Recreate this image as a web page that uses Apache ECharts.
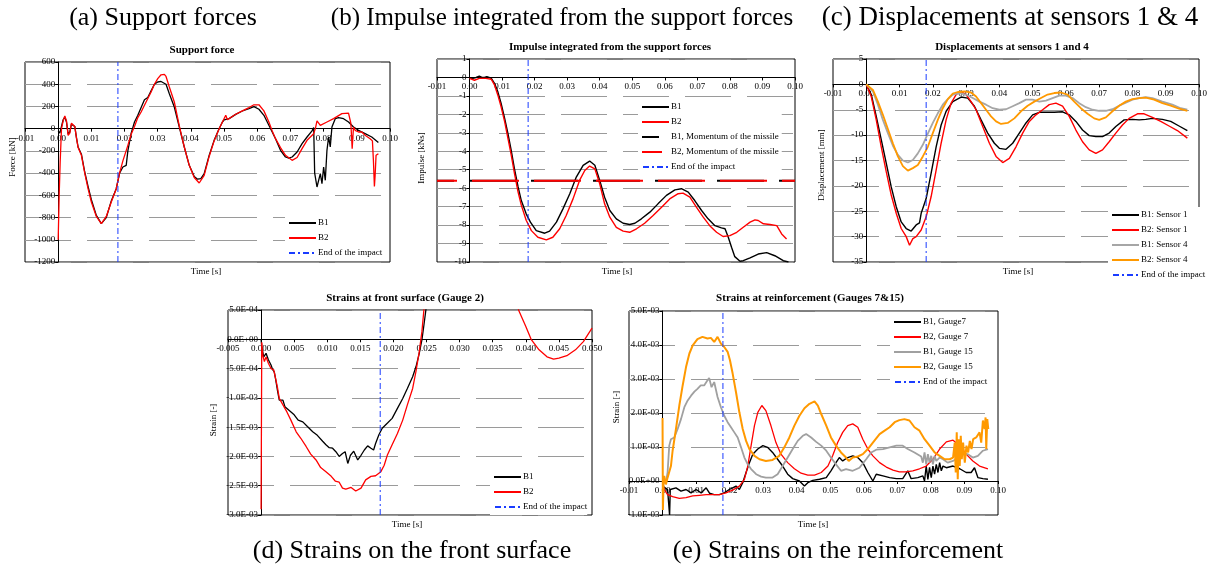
<!DOCTYPE html>
<html><head><meta charset="utf-8">
<script src="https://cdn.jsdelivr.net/npm/echarts@6.0.0/dist/echarts.min.js"></script>
<style>html,body{margin:0;padding:0;background:#fff}#c{width:1210px;height:567px}</style>
</head><body><div id="c"></div>
<script>
// ---------- DATA (time [s], value) ----------
const END_OF_IMPACT = 0.018;

// (a) Support force [kN]
const a_B1 = [[0,-20],[0.0005,-40],[0.001,20],[0.0015,80],[0.002,105],[0.0025,60],[0.003,-50],[0.0035,-30],[0.004,40],[0.0044,55],[0.005,20],[0.0055,-80],[0.006,-165],[0.007,-230],[0.008,-390],[0.009,-520],[0.010,-640],[0.0115,-780],[0.013,-855],[0.0135,-860],[0.0145,-800],[0.016,-650],[0.0175,-540],[0.0185,-400],[0.0195,-345],[0.0205,-330],[0.021,-200],[0.022,-40],[0.023,60],[0.024,120],[0.025,190],[0.026,260],[0.027,280],[0.028,340],[0.029,400],[0.030,420],[0.031,425],[0.0315,435],[0.0325,400],[0.0335,315],[0.035,195],[0.0365,15],[0.038,-165],[0.0395,-330],[0.041,-430],[0.042,-455],[0.043,-450],[0.044,-405],[0.0455,-240],[0.047,-105],[0.0485,0],[0.0495,60],[0.050,80],[0.0515,90],[0.0535,129],[0.0555,159],[0.0575,180],[0.059,198],[0.0605,175],[0.062,120],[0.0635,30],[0.0645,-30],[0.0655,-90],[0.067,-195],[0.0685,-255],[0.0695,-265],[0.0705,-255],[0.072,-210],[0.0735,-135],[0.075,-75],[0.0765,-20],[0.077,10],[0.0773,-400],[0.078,-525],[0.0785,-540],[0.079,-405],[0.0795,-495],[0.080,-345],[0.0805,-465],[0.081,-195],[0.0815,-75],[0.082,-165],[0.0825,15],[0.0835,90],[0.0845,100],[0.086,90],[0.0875,60],[0.089,15],[0.0905,-15],[0.0925,-45],[0.0945,-75],[0.0965,-125]];
const a_B2 = [[0,-1000],[0.0003,-600],[0.0006,-300],[0.001,0],[0.0015,70],[0.002,115],[0.0025,70],[0.003,-60],[0.0035,-40],[0.004,50],[0.0044,60],[0.005,20],[0.0055,-80],[0.006,-170],[0.007,-240],[0.008,-400],[0.009,-540],[0.010,-660],[0.0115,-790],[0.013,-855],[0.0135,-860],[0.0145,-790],[0.016,-660],[0.0175,-540],[0.0185,-400],[0.0195,-290],[0.021,-150],[0.022,-50],[0.023,20],[0.024,100],[0.025,150],[0.026,210],[0.028,330],[0.029,400],[0.030,450],[0.031,485],[0.032,489],[0.0325,470],[0.0335,375],[0.035,240],[0.0365,25],[0.038,-165],[0.0395,-330],[0.041,-440],[0.0425,-489],[0.044,-420],[0.0455,-250],[0.047,-110],[0.0485,0],[0.0495,60],[0.0505,120],[0.051,80],[0.0515,85],[0.0535,130],[0.0555,160],[0.0575,190],[0.059,215],[0.0605,215],[0.062,160],[0.0635,60],[0.0645,-20],[0.0655,-90],[0.067,-170],[0.0685,-240],[0.0705,-285],[0.072,-260],[0.0735,-180],[0.075,-105],[0.077,-45],[0.0775,0],[0.078,70],[0.0785,50],[0.079,30],[0.081,60],[0.083,90],[0.0855,135],[0.0875,140],[0.0882,50],[0.0886,-180],[0.089,15],[0.0895,-15],[0.0905,-30],[0.0915,-30],[0.0925,-60],[0.094,-90],[0.0947,-110],[0.095,-285],[0.0953,-520],[0.0955,-430],[0.0958,-240],[0.0965,-225]];

// (b) Impulse [kNs]
const b_B1 = [[0,-0.05],[0.001,-0.05],[0.002,0.0],[0.003,0.07],[0.0038,0.0],[0.0046,0.0],[0.0053,0.05],[0.006,0.0],[0.0067,-0.05],[0.0077,-0.33],[0.0087,-0.78],[0.0097,-1.41],[0.0108,-2.23],[0.0118,-3.04],[0.0128,-3.95],[0.0138,-4.95],[0.0149,-5.92],[0.0159,-6.67],[0.0174,-7.39],[0.0187,-7.84],[0.0205,-8.3],[0.0231,-8.44],[0.0246,-8.33],[0.0267,-7.84],[0.0287,-7.12],[0.0308,-6.3],[0.0328,-5.4],[0.0349,-4.76],[0.0369,-4.53],[0.0385,-4.76],[0.04,-5.58],[0.0415,-6.49],[0.0431,-7.21],[0.0451,-7.66],[0.0472,-7.9],[0.0492,-7.97],[0.0508,-7.9],[0.0528,-7.66],[0.0554,-7.3],[0.0579,-6.85],[0.0605,-6.39],[0.0631,-6.09],[0.0651,-6.03],[0.0672,-6.21],[0.0692,-6.67],[0.0713,-7.21],[0.0733,-7.66],[0.0754,-8.03],[0.0774,-8.15],[0.0785,-8.2],[0.0795,-8.66],[0.0805,-9.2],[0.0815,-9.71],[0.0831,-9.96],[0.0841,-9.93],[0.0862,-9.78],[0.0887,-9.57],[0.0913,-9.49],[0.0938,-9.66],[0.0964,-9.93],[0.098,-10]];
const b_B2 = [[0,-0.05],[0.0005,-0.1],[0.0015,-0.15],[0.003,-0.05],[0.005,-0.05],[0.0067,-0.1],[0.0077,-0.42],[0.0087,-0.96],[0.0097,-1.59],[0.0108,-2.41],[0.0118,-3.3],[0.0128,-4.2],[0.0138,-5.2],[0.0149,-6.2],[0.0159,-6.92],[0.0174,-7.74],[0.019,-8.3],[0.021,-8.66],[0.0236,-8.8],[0.0256,-8.66],[0.0277,-8.2],[0.0297,-7.48],[0.0318,-6.58],[0.0338,-5.58],[0.0354,-5.04],[0.0369,-4.8],[0.0385,-4.95],[0.04,-5.76],[0.0415,-6.85],[0.0431,-7.57],[0.0451,-8.12],[0.0472,-8.33],[0.0492,-8.39],[0.0513,-8.2],[0.0538,-7.9],[0.0564,-7.48],[0.059,-7.03],[0.0615,-6.58],[0.0641,-6.3],[0.0656,-6.27],[0.0677,-6.49],[0.0697,-7.03],[0.0718,-7.57],[0.0738,-8.03],[0.0759,-8.39],[0.0779,-8.62],[0.08,-8.57],[0.0821,-8.39],[0.0841,-8.12],[0.0862,-7.84],[0.0877,-7.72],[0.0887,-7.75],[0.0903,-7.93],[0.0923,-7.97],[0.0944,-8.03],[0.0959,-8.48],[0.0974,-8.75]];
const b_B1_momentum = -5.6;
const b_B2_momentum = -5.6;

// (c) Displacement [mm]
const c_B1S1 = [[0,0],[0.0015,-2.0],[0.003,-6.3],[0.0045,-10.9],[0.006,-15.5],[0.0075,-20.2],[0.009,-24.1],[0.0105,-27.1],[0.012,-28.4],[0.0135,-28.9],[0.015,-27.7],[0.016,-27.3],[0.0165,-25.4],[0.018,-22.5],[0.0195,-17.5],[0.021,-12.3],[0.0225,-8.0],[0.024,-5.3],[0.026,-3.4],[0.0285,-2.5],[0.0305,-2.7],[0.0325,-4.3],[0.0345,-7.0],[0.0365,-9.6],[0.0385,-11.6],[0.04,-12.6],[0.042,-12.8],[0.044,-11.6],[0.046,-9.6],[0.048,-7.6],[0.05,-6.0],[0.052,-5.5],[0.054,-5.5],[0.0565,-5.5],[0.059,-5.4],[0.061,-6.0],[0.063,-7.3],[0.065,-9.0],[0.067,-10.1],[0.069,-10.3],[0.071,-10.3],[0.073,-9.6],[0.075,-8.3],[0.0775,-7.0],[0.08,-6.9],[0.082,-7.0],[0.084,-6.9],[0.086,-6.7],[0.089,-6.9],[0.0915,-7.3],[0.094,-8.2],[0.0965,-9.1]];
const c_B2S1 = [[0,0],[0.0015,-2.4],[0.003,-7.0],[0.0045,-12.3],[0.006,-17.2],[0.0075,-21.8],[0.009,-25.4],[0.0105,-28.4],[0.012,-30.0],[0.013,-31.7],[0.014,-30.4],[0.015,-30.0],[0.0165,-28.7],[0.018,-26.1],[0.0195,-22.1],[0.021,-16.9],[0.0225,-11.6],[0.024,-7.0],[0.0255,-3.7],[0.027,-2.0],[0.0285,-1.4],[0.03,-2.0],[0.0315,-3.4],[0.033,-5.0],[0.035,-8.3],[0.037,-11.6],[0.039,-14.2],[0.041,-15.4],[0.043,-14.6],[0.045,-12.3],[0.047,-9.6],[0.049,-7.3],[0.051,-6.0],[0.053,-5.0],[0.055,-4.0],[0.057,-3.7],[0.059,-4.3],[0.061,-6.3],[0.063,-9.0],[0.065,-11.3],[0.067,-12.9],[0.069,-13.6],[0.071,-12.9],[0.073,-11.3],[0.075,-9.6],[0.077,-8.0],[0.079,-6.7],[0.0815,-5.8],[0.0835,-5.8],[0.086,-6.5],[0.0885,-7.3],[0.091,-8.2],[0.0935,-9.1],[0.0965,-10.6]];
const c_B1S4 = [[0,0],[0.002,-1.4],[0.0035,-4.0],[0.005,-7.0],[0.0065,-9.6],[0.008,-12.1],[0.0095,-13.9],[0.011,-15.0],[0.0125,-15.4],[0.014,-14.9],[0.0155,-13.6],[0.017,-11.9],[0.0185,-9.7],[0.02,-7.6],[0.0215,-5.7],[0.023,-4.0],[0.0245,-2.9],[0.026,-2.0],[0.028,-1.7],[0.03,-2.0],[0.032,-2.7],[0.034,-3.4],[0.036,-4.0],[0.038,-4.7],[0.04,-5.0],[0.042,-4.9],[0.044,-4.3],[0.046,-3.7],[0.048,-3.0],[0.05,-3.0],[0.052,-3.4],[0.054,-3.2],[0.056,-2.7],[0.058,-2.2],[0.06,-2.2],[0.062,-2.7],[0.064,-3.7],[0.066,-4.5],[0.068,-5.0],[0.07,-5.2],[0.072,-5.2],[0.074,-4.9],[0.076,-4.2],[0.078,-3.6],[0.08,-3.0],[0.082,-2.7],[0.084,-2.5],[0.086,-2.7],[0.089,-3.4],[0.092,-4.0],[0.0945,-4.7],[0.0965,-5.0]];
const c_B2S4 = [[0,0],[0.002,-1.1],[0.0035,-3.4],[0.005,-6.0],[0.0065,-8.8],[0.008,-11.6],[0.0095,-14.2],[0.011,-16.1],[0.0125,-17.0],[0.014,-16.5],[0.0155,-15.9],[0.017,-14.2],[0.0185,-12.3],[0.02,-9.6],[0.0215,-7.0],[0.023,-4.7],[0.0245,-2.9],[0.026,-1.8],[0.0275,-1.5],[0.0295,-1.4],[0.0315,-1.6],[0.033,-2.4],[0.0345,-3.7],[0.036,-5.0],[0.0375,-6.3],[0.039,-7.3],[0.0405,-7.8],[0.0425,-7.6],[0.0445,-6.7],[0.0465,-5.3],[0.0485,-4.2],[0.0505,-3.4],[0.0525,-2.7],[0.0545,-2.0],[0.0565,-1.7],[0.0585,-1.6],[0.0605,-2.0],[0.0625,-3.4],[0.0645,-4.7],[0.0665,-5.8],[0.0685,-6.7],[0.07,-7.0],[0.072,-6.5],[0.074,-5.3],[0.076,-4.2],[0.078,-3.4],[0.08,-2.9],[0.082,-2.7],[0.084,-2.6],[0.0865,-3.0],[0.089,-3.7],[0.0915,-4.2],[0.094,-4.8],[0.0965,-5.2]];

// (d) Strain at front surface, in units of 1E-03
const d_B1 = [[0,0],[0.0001,-0.13],[0.0004,-0.3],[0.00075,-0.24],[0.0011,-0.35],[0.0015,-0.44],[0.00175,-0.52],[0.002,-0.56],[0.00225,-0.72],[0.0025,-0.89],[0.00275,-1.04],[0.003,-1.01],[0.0033,-1.04],[0.0036,-1.15],[0.0043,-1.22],[0.005,-1.29],[0.0056,-1.38],[0.0063,-1.41],[0.007,-1.49],[0.0078,-1.58],[0.0085,-1.64],[0.0093,-1.74],[0.0098,-1.8],[0.0103,-1.85],[0.0108,-1.86],[0.0113,-1.92],[0.0118,-2.0],[0.0123,-1.95],[0.0127,-1.92],[0.0131,-2.12],[0.0135,-1.98],[0.014,-1.91],[0.0146,-2.06],[0.0151,-1.98],[0.0156,-1.89],[0.0161,-1.82],[0.0166,-1.86],[0.017,-1.89],[0.0173,-1.78],[0.0178,-1.63],[0.0183,-1.52],[0.0191,-1.43],[0.0198,-1.35],[0.0206,-1.18],[0.0214,-1.01],[0.0221,-0.84],[0.0229,-0.64],[0.0234,-0.47],[0.0239,-0.24],[0.0243,-0.01],[0.0246,0.24],[0.0249,0.5],[0.0255,1.0]];
const d_B2 = [[0,-2.9],[0.00005,-1.5],[0.0001,-0.05],[0.00025,-0.27],[0.0005,-0.38],[0.00075,-0.3],[0.0011,-0.41],[0.0015,-0.5],[0.0019,-0.52],[0.0022,-0.67],[0.0025,-0.84],[0.00275,-1.01],[0.0033,-1.12],[0.0039,-1.24],[0.0045,-1.38],[0.0053,-1.58],[0.006,-1.69],[0.0068,-1.83],[0.0075,-1.96],[0.0083,-2.06],[0.009,-2.19],[0.0098,-2.26],[0.0106,-2.34],[0.0112,-2.42],[0.0118,-2.44],[0.0123,-2.54],[0.0128,-2.56],[0.0136,-2.53],[0.0143,-2.59],[0.0151,-2.54],[0.0158,-2.4],[0.0166,-2.34],[0.0173,-2.33],[0.0181,-2.26],[0.0186,-2.15],[0.0191,-1.97],[0.0198,-1.8],[0.0206,-1.61],[0.0214,-1.38],[0.0221,-1.12],[0.0229,-0.84],[0.0234,-0.55],[0.0239,-0.21],[0.0243,0.13],[0.0246,0.5],[0.0252,1.0],[0.0385,1.0],[0.0389,0.5],[0.04,0.22],[0.0408,0],[0.042,-0.18],[0.0432,-0.3],[0.0442,-0.34],[0.045,-0.32],[0.0462,-0.28],[0.0475,-0.18],[0.0487,-0.04],[0.05,0.19]];

// (e) Strain at reinforcement, in units of 1E-03
const e_B1G7 = [[0,-0.15],[0.0005,-0.2],[0.0015,-0.25],[0.0021,-1.0],[0.0023,-0.25],[0.0025,-0.2],[0.004,-0.2],[0.0055,-0.3],[0.007,-0.25],[0.0085,-0.35],[0.01,-0.25],[0.0115,-0.35],[0.013,-0.2],[0.014,-0.36],[0.0154,-0.4],[0.0169,-0.4],[0.0184,-0.35],[0.0199,-0.25],[0.0209,-0.2],[0.0219,-0.15],[0.0229,-0.25],[0.0239,-0.05],[0.0249,0.25],[0.0259,0.54],[0.0269,0.79],[0.0284,0.94],[0.0299,1.04],[0.0313,0.99],[0.0328,0.84],[0.0343,0.64],[0.0358,0.44],[0.0373,0.2],[0.0388,0.07],[0.0408,0],[0.0423,-0.15],[0.0433,-0.05],[0.0448,0.02],[0.0468,0.05],[0.0488,0.1],[0.0502,0.3],[0.0517,0.54],[0.0527,0.69],[0.0537,0.59],[0.0552,0.69],[0.0567,0.74],[0.0582,0.69],[0.0597,0.54],[0.0612,0.25],[0.0627,0],[0.0637,0.2],[0.0657,0.15],[0.0677,0.1],[0.0697,0.07],[0.0716,0.07],[0.0731,0.3],[0.0741,0.07],[0.0761,0.1],[0.0776,0.15],[0.0781,0],[0.0786,0.44],[0.0791,0.05],[0.0796,0.4],[0.0801,0.1],[0.0806,0.44],[0.0811,0.2],[0.0816,0.49],[0.0821,0.25],[0.0826,0.54],[0.0831,0.3],[0.0836,0.44],[0.0846,0.39],[0.0866,0.44],[0.0886,0.36],[0.0905,0.25],[0.092,0.25],[0.093,0.39],[0.094,0.1],[0.0955,0.07],[0.097,0.05]];
const e_B2G7 = [[0,-0.05],[0.0005,-0.25],[0.0015,-0.4],[0.003,-0.46],[0.005,-0.51],[0.007,-0.49],[0.009,-0.44],[0.011,-0.42],[0.013,-0.4],[0.015,-0.4],[0.017,-0.4],[0.0189,-0.35],[0.0209,-0.27],[0.0229,-0.15],[0.0244,0.05],[0.0254,0.44],[0.0264,1.04],[0.0274,1.63],[0.0284,2.02],[0.0296,2.22],[0.0308,2.07],[0.0323,1.63],[0.0338,1.13],[0.0353,0.79],[0.0373,0.54],[0.0393,0.36],[0.0413,0.23],[0.0433,0.17],[0.0453,0.17],[0.0473,0.25],[0.0493,0.44],[0.0507,0.74],[0.0522,1.13],[0.0537,1.43],[0.0552,1.63],[0.0567,1.68],[0.0582,1.58],[0.0597,1.23],[0.0612,0.94],[0.0627,0.74],[0.0647,0.54],[0.0667,0.41],[0.0687,0.32],[0.0706,0.27],[0.0726,0.27],[0.0746,0.3],[0.0766,0.36],[0.0786,0.44],[0.0806,0.64],[0.0826,0.94],[0.0846,1.15],[0.0866,1.2],[0.0886,1.04],[0.0905,0.79],[0.0925,0.59],[0.0945,0.44],[0.097,0.36]];
const e_B1G15 = [[0,-0.05],[0.001,-0.05],[0.0015,0.25],[0.002,1.04],[0.0025,1.23],[0.0035,1.28],[0.0045,1.53],[0.0055,1.82],[0.0065,2.17],[0.0075,2.37],[0.0085,2.51],[0.0095,2.63],[0.0104,2.71],[0.0114,2.81],[0.0124,2.81],[0.0134,2.96],[0.0139,3.03],[0.0146,2.76],[0.0154,2.91],[0.0164,2.47],[0.0174,2.17],[0.0184,1.92],[0.0194,1.73],[0.0204,1.58],[0.0214,1.43],[0.0224,1.28],[0.0234,0.99],[0.0244,0.69],[0.0254,0.49],[0.0264,0.35],[0.0279,0.2],[0.0294,0.13],[0.0308,0.1],[0.0328,0.1],[0.0343,0.2],[0.0358,0.44],[0.0373,0.69],[0.0388,0.94],[0.0403,1.18],[0.0418,1.33],[0.0428,1.38],[0.0443,1.28],[0.0458,1.15],[0.0473,1.04],[0.0488,0.89],[0.0502,0.69],[0.0517,0.49],[0.0532,0.3],[0.0547,0.35],[0.0567,0.3],[0.0587,0.39],[0.0607,0.64],[0.0622,0.84],[0.0637,0.92],[0.0657,0.94],[0.0677,0.99],[0.0697,1.04],[0.0716,1.04],[0.0731,0.94],[0.0751,0.84],[0.0771,0.72],[0.0776,0.54],[0.0781,0.84],[0.0786,0.49],[0.0791,0.79],[0.0796,0.54],[0.0801,0.74],[0.0806,0.49],[0.0811,0.74],[0.0816,0.59],[0.0826,0.69],[0.0836,0.64],[0.085,0.54],[0.0866,0.59],[0.0881,0.69],[0.0896,0.79],[0.091,0.79],[0.0925,0.69],[0.094,0.74],[0.0955,0.89],[0.097,0.94]];
const e_B2G15 = [[0,1.85],[0.0001,-0.85],[0.0003,-0.05],[0.0005,0.15],[0.001,-0.1],[0.0015,0.1],[0.002,0.15],[0.0025,0.44],[0.003,0.89],[0.004,1.53],[0.005,2.22],[0.006,2.81],[0.007,3.35],[0.008,3.75],[0.009,3.99],[0.0104,4.17],[0.0119,4.24],[0.0134,4.19],[0.0144,4.21],[0.0154,4.09],[0.0164,4.24],[0.0174,4.04],[0.0184,3.94],[0.0194,3.8],[0.0201,3.55],[0.0209,3.16],[0.0219,2.61],[0.0229,2.02],[0.0239,1.53],[0.0249,1.18],[0.0259,0.94],[0.0274,0.74],[0.0289,0.64],[0.0308,0.59],[0.0328,0.62],[0.0348,0.74],[0.0363,0.99],[0.0378,1.28],[0.0393,1.63],[0.0408,1.92],[0.0423,2.14],[0.0438,2.27],[0.0453,2.34],[0.0463,2.22],[0.0473,1.97],[0.0488,1.63],[0.0502,1.28],[0.0517,1.04],[0.0532,0.84],[0.0547,0.69],[0.0555,0.59],[0.0567,0.69],[0.0582,0.72],[0.0597,0.79],[0.0612,0.94],[0.0627,1.13],[0.0647,1.38],[0.0662,1.48],[0.0677,1.58],[0.0692,1.73],[0.0706,1.79],[0.0721,1.82],[0.0736,1.78],[0.0751,1.58],[0.0766,1.48],[0.0781,1.23],[0.0796,1.04],[0.0811,0.84],[0.0826,0.74],[0.0841,0.64],[0.0856,0.64],[0.0866,0.69],[0.0871,1.13],[0.0874,0.25],[0.0877,1.43],[0.088,0.05],[0.0883,1.23],[0.0886,0.44],[0.0889,1.33],[0.0892,0.64],[0.0896,1.13],[0.0901,0.54],[0.0906,1.04],[0.0911,0.84],[0.0916,1.18],[0.0921,0.94],[0.0926,1.23],[0.0935,1.28],[0.0945,1.43],[0.095,1.13],[0.0955,1.78],[0.096,1.53],[0.0963,1.87],[0.0965,0.94],[0.0968,1.82],[0.0971,1.53]];

// ---------- TEXT ----------
const captions = ['(a) Support forces','(b) Impulse integrated from the support forces','(c) Displacements at sensors 1 & 4','(d) Strains on the front surface','(e) Strains on the reinforcement'];
const titles = ['Support force','Impulse integrated from the support forces','Displacements at sensors 1 and 4','Strains at front surface (Gauge 2)','Strains at reinforcement (Gauges 7&15)'];
const yNames = ['Force [kN]','Impulse [kNs]','Displacement [mm]','Strain [-]','Strain [-]'];
const xName = 'Time [s]';

// ---------- LAYOUT ----------
const FONT = '"Liberation Serif","Times New Roman",serif';
const grids = [
  {left:25, top:62, width:365, height:200},
  {left:437, top:59, width:358, height:203},
  {left:833, top:59, width:366, height:203},
  {left:228, top:310, width:364, height:205},
  {left:629, top:311, width:369, height:204}
];
const axes = [
  {x:[-0.01,0.10,0.01,2], y:[-1200,600,200]},
  {x:[-0.01,0.10,0.01,2], y:[-10,1,1]},
  {x:[-0.01,0.10,0.01,2], y:[-35,5,5]},
  {x:[-0.005,0.050,0.005,3], y:[-3,0.5,0.5]},
  {x:[-0.01,0.10,0.01,2], y:[-1,5,1]}
];
function sci(v){ // v in 1E-03
  const x = Math.abs(v)<1e-9 ? 0 : v*1e-3;
  const s = x.toExponential(1).split('e');
  const e = parseInt(s[1],10);
  return s[0] + 'E' + (e<0?'-':'+') + String(Math.abs(e)).padStart(2,'0');
}
// axes cross at zero (Excel style): shift each axis from the grid edge to the other axis' zero
const xAxis = axes.map((a,i)=>({
  type:'value', gridIndex:i, min:a.x[0], max:a.x[1], interval:a.x[2], position:'bottom',
  offset: -grids[i].height * (0 - a.y[0]) / (a.y[1] - a.y[0]),
  axisLine:{onZero:false, lineStyle:{color:'#000', width:1}},
  axisTick:{show:true, length:3, lineStyle:{color:'#000'}},
  splitLine:{show:false},
  axisLabel:{fontFamily:FONT, fontSize:9, color:'#000', margin:5, showMinLabel:true, showMaxLabel:true,
    formatter:v=>(Math.abs(v)<1e-9?0:v).toFixed(a.x[3])}
}));
const yAxis = axes.map((a,i)=>({
  type:'value', gridIndex:i, min:a.y[0], max:a.y[1], interval:a.y[2], position:'left',
  offset: -grids[i].width * (0 - a.x[0]) / (a.x[1] - a.x[0]),
  axisLine:{onZero:false, lineStyle:{color:'#000', width:1}},
  axisTick:{show:true, length:3, lineStyle:{color:'#000'}},
  splitLine:{show:true, lineStyle:{color:'#9a9a9a', width:1, type:[46,16]}},
  axisLabel:{fontFamily:FONT, fontSize:9, color:'#000', margin:3, showMinLabel:true, showMaxLabel:true,
    formatter: i>=3 ? sci : (v=>String(Math.round(v)))}
}));

const BLUE = '#1a3cff';
function line(name, gi, data, color, width, extra){
  return Object.assign({
    type:'line', name, xAxisIndex:gi, yAxisIndex:gi, data, symbol:'none', showSymbol:false,
    animation:false, clip:true, z:2,
    lineStyle:{color, width}, itemStyle:{color}
  }, extra||{});
}
function endLine(gi){
  return line('End of the impact', gi, [[END_OF_IMPACT, axes[gi].y[0]],[END_OF_IMPACT, axes[gi].y[1]]], BLUE, 1,
    {lineStyle:{color:BLUE, width:1, type:[6,3,2,3]}});
}
const series = [
  line('B1',0,a_B1,'#000',1.3), line('B2',0,a_B2,'#ff0000',1.3), endLine(0),
  line('B1',1,b_B1,'#000',1.4), line('B2',1,b_B2,'#ff0000',1.4),
  line('B1, Momentum of the missile',1,[[-0.01,b_B1_momentum],[0.10,b_B1_momentum]],'#000',2,
      {lineStyle:{color:'#000',width:2,type:[47,15],dashOffset:30}}),
  line('B2, Momentum of the missile',1,[[-0.01,b_B2_momentum],[0.10,b_B2_momentum]],'#ff0000',2,
      {lineStyle:{color:'#ff0000',width:2,type:[47,15],dashOffset:27}}),
  endLine(1),
  line('B1: Sensor 1',2,c_B1S1,'#000',1.4), line('B2: Sensor 1',2,c_B2S1,'#ff0000',1.4),
  line('B1: Sensor 4',2,c_B1S4,'#a6a6a6',1.8), line('B2: Sensor 4',2,c_B2S4,'#ff9900',1.8),
  endLine(2),
  line('B1',3,d_B1,'#000',1.3), line('B2',3,d_B2,'#ff0000',1.3), endLine(3),
  line('B1, Gauge7',4,e_B1G7,'#000',1.4), line('B2, Gauge 7',4,e_B2G7,'#ff0000',1.3),
  line('B1, Gauge 15',4,e_B1G15,'#a0a0a0',1.8), line('B2, Gauge 15',4,e_B2G15,'#ff9900',2),
  endLine(4)
];
function legend(left, top, names, padRight){
  return {left, top, orient:'vertical', data:names, itemWidth:27, itemHeight:10, itemGap:5,
    padding:[3, padRight===undefined?3:padRight, 3, 3], backgroundColor:'#fff', selectedMode:false,
    itemStyle:{opacity:0, color:'rgba(0,0,0,0)', borderWidth:0},
    textStyle:{fontFamily:FONT, fontSize:9, color:'#000', lineHeight:10, padding:[0,0,0,-3]}};
}
const legends = [
  legend(285,215,['B1','B2','End of the impact']),
  legend(638,99,['B1','B2','B1, Momentum of the missile','B2, Momentum of the missile','End of the impact']),
  legend(1108,207,['B1: Sensor 1','B2: Sensor 1','B1: Sensor 4','B2: Sensor 4','End of the impact'],24),
  legend(490,469,['B1','B2','End of the impact'],0),
  legend(890,314,['B1, Gauge7','B2, Gauge 7','B1, Gauge 15','B2, Gauge 15','End of the impact'])
];

function txt(text, x, y, size, weight, rot){
  return {type:'text', x, y, rotation:rot||0, silent:true,
    style:{text, fontFamily:FONT, fontSize:size, fontWeight:weight||'normal', fill:'#000',
      textAlign:'center', textVerticalAlign:'middle', align:'center', verticalAlign:'middle'}};
}
const titlePos = [[202,50],[610,47],[1012,47],[405,298],[810,298]];
const xNamePos = [[206,272],[617,272],[1018,272],[407,525],[813,525]];
const yNamePos = [[13,157],[422,158],[822,165],[214,420],[617,407]];
const capPos = [[163,18],[562,18],[1010,18],[412,551],[838,551]];
const capSize = [26,25,27,26,26];
const graphic = [];
for(let i=0;i<5;i++){
  graphic.push(txt(titles[i], titlePos[i][0], titlePos[i][1], 11, 'bold'));
  graphic.push(txt(xName, xNamePos[i][0], xNamePos[i][1], 9));
  graphic.push(txt(yNames[i], yNamePos[i][0], yNamePos[i][1], 9, 'normal', Math.PI/2));
  graphic.push(txt(captions[i], capPos[i][0], capPos[i][1], capSize[i]));
}

const chart = echarts.init(document.getElementById('c'), null, {renderer:'canvas'});
chart.setOption({
  animation:false,
  backgroundColor:'#fff',
  grid: grids.map(g=>Object.assign({show:true, borderColor:'#000', borderWidth:1, backgroundColor:'transparent', containLabel:false}, g)),
  xAxis, yAxis, series, legend:legends, graphic
});
</script></body></html>
